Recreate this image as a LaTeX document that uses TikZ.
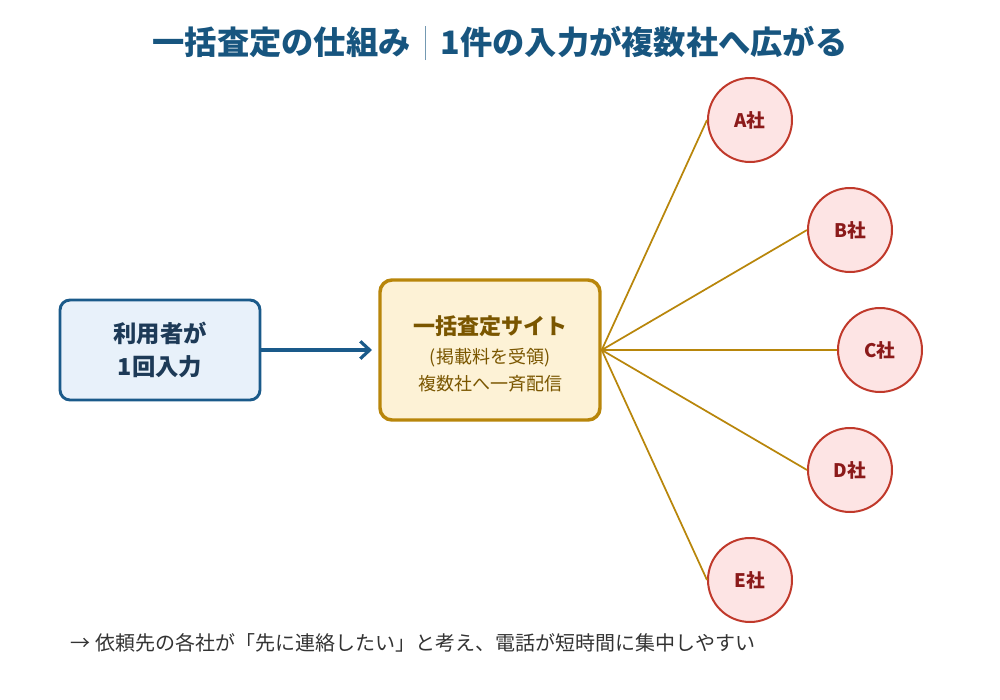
\documentclass[tikz,border=0pt]{standalone}
\usepackage{fontspec}
\setmainfont{Noto Sans CJK JP}
\usetikzlibrary{arrows.meta}
\definecolor{titleblue}{HTML}{17557F}
\definecolor{userfill}{HTML}{E8F1FA}
\definecolor{userline}{HTML}{1A5A8A}
\definecolor{usertext}{HTML}{1D3A57}
\definecolor{sitefill}{HTML}{FDF2D6}
\definecolor{siteline}{HTML}{B8860B}
\definecolor{sitetext}{HTML}{7A5600}
\definecolor{cofill}{HTML}{FDE4E4}
\definecolor{coline}{HTML}{C0392B}
\definecolor{cotext}{HTML}{8B1A1A}
\definecolor{notetext}{HTML}{333333}
\tikzset{
  userbox/.style={draw=userline, line width=2.2pt, fill=userfill, rounded corners=7.5pt,
    minimum width=150pt, minimum height=75pt, align=center, text=usertext,
    font=\fontsize{17.5}{25}\selectfont\bfseries},
  sitebox/.style={draw=siteline, line width=2.6pt, fill=sitefill, rounded corners=9pt,
    minimum width=165pt, minimum height=105pt},
  sitetextstyle/.style={align=center, text=sitetext, font=\fontsize{13.5}{20}\selectfont},
  company/.style={circle, draw=coline, line width=1.5pt, fill=cofill, minimum size=63pt,
    inner sep=0pt, text=cotext, font=\fontsize{14}{16}\selectfont\bfseries},
  fan/.style={draw=siteline, line width=1.3pt},
}
\begin{document}
\begin{tikzpicture}[x=0.75pt, y=-0.75pt]
\useasboundingbox (0,0) rectangle (1000,700);
\node[text=titleblue, font=\fontsize{24.2}{28}\selectfont\bfseries] (title) at (500,43)
  {一括査定の仕組み{\color{titleblue!60}\hspace{0.45em}\rule[-0.18em]{0.7pt}{1.05em}\hspace{0.45em}}1件の入力が複数社へ広がる};
\node[userbox] (user) at (160,350) {利用者が\\1回入力};
\node[sitebox] (site) at (490,350) {};
\node[sitetextstyle] (sitelabel) at (490,354) {{\fontsize{16.5}{22}\selectfont\bfseries 一括査定サイト}\\[2pt]
  (掲載料を受領)\\
  複数社へ一斉配信};
\coordinate (arrowend) at (372,350);
\draw[userline, line width=2.4pt, -{Straight Barb[length=7pt, width=13pt, line width=2.4pt]}] (user.east) -- (arrowend);
\node[company] (A) at (750,120) {A社};
\node[company] (B) at (850,230) {B社};
\node[company] (C) at (880,350) {C社};
\node[company] (D) at (850,470) {D社};
\node[company] (E) at (750,580) {E社};
\foreach \c in {A,B,C,D,E} \draw[fan] (site.east) -- (\c.west);
\node[anchor=west, text=notetext, font=\fontsize{15}{18}\selectfont] (note) at (66,643)
  {→ 依頼先の各社が「先に連絡したい」と考え、電話が短時間に集中しやすい};
\end{tikzpicture}
\end{document}
